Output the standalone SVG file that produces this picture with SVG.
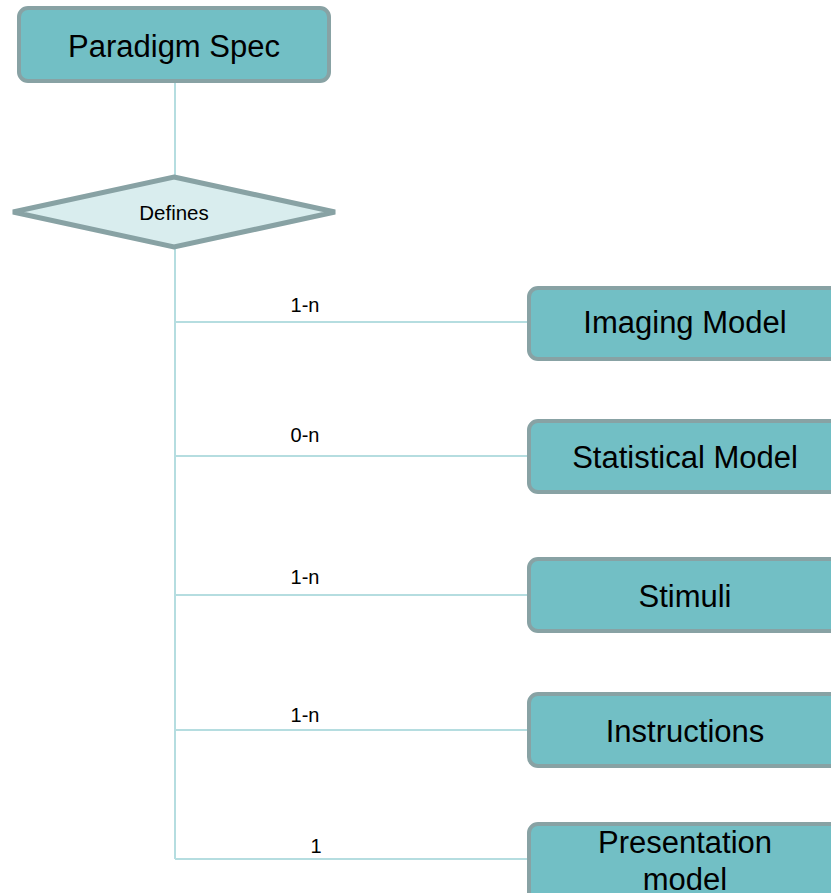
<svg xmlns="http://www.w3.org/2000/svg" width="831" height="893" viewBox="0 0 831 893">
<style>
.box{fill:#72bfc5;stroke:#88a2a4;stroke-width:4}
.dia{fill:#d9edee;stroke:#88a2a4;stroke-width:5}
.con{stroke:#b5dde0;stroke-width:2;fill:none}
.t{font-family:"Liberation Sans",Arial,sans-serif;font-size:31px;fill:#000;text-anchor:middle}
.s{font-family:"Liberation Sans",Arial,sans-serif;font-size:20px;fill:#000;text-anchor:middle}
</style>
<rect width="831" height="893" fill="#fff"/>
<g id="connectors">
<line class="con" x1="175" y1="81" x2="175" y2="177"/>
<line class="con" x1="175" y1="247" x2="175" y2="859"/>
<line class="con" x1="175" y1="322" x2="529" y2="322"/>
<line class="con" x1="175" y1="456" x2="529" y2="456"/>
<line class="con" x1="175" y1="595" x2="529" y2="595"/>
<line class="con" x1="175" y1="730" x2="529" y2="730"/>
<line class="con" x1="175" y1="859" x2="529" y2="859"/>
<text class="s" x="305" y="312">1-n</text>
<text class="s" x="305" y="442">0-n</text>
<text class="s" x="305" y="584">1-n</text>
<text class="s" x="305" y="722">1-n</text>
<text class="s" x="316" y="853">1</text>
</g>
<g id="paradigm-spec">
<rect class="box" x="19" y="8" width="310" height="73" rx="9"/>
<text class="t" x="174" y="57">Paradigm Spec</text>
</g>
<g id="defines">
<polygon class="dia" points="174,177 335,212 174,247 13,212"/>
<text class="s" x="174" y="220" style="font-size:20.5px">Defines</text>
</g>
<g id="imaging-model">
<rect class="box" x="529" y="288" width="314" height="71" rx="9"/>
<text class="t" x="685" y="333">Imaging Model</text>
</g>
<g id="statistical-model">
<rect class="box" x="529" y="421" width="314" height="71" rx="9"/>
<text class="t" x="685" y="468">Statistical Model</text>
</g>
<g id="stimuli">
<rect class="box" x="529" y="559" width="314" height="72" rx="9"/>
<text class="t" x="685" y="607">Stimuli</text>
</g>
<g id="instructions">
<rect class="box" x="529" y="694" width="314" height="72" rx="9"/>
<text class="t" x="685" y="742">Instructions</text>
</g>
<g id="presentation-model">
<rect class="box" x="529" y="824" width="314" height="90" rx="9"/>
<text class="t" x="685" y="853">Presentation</text>
<text class="t" x="685" y="890">model</text>
</g>
</svg>
